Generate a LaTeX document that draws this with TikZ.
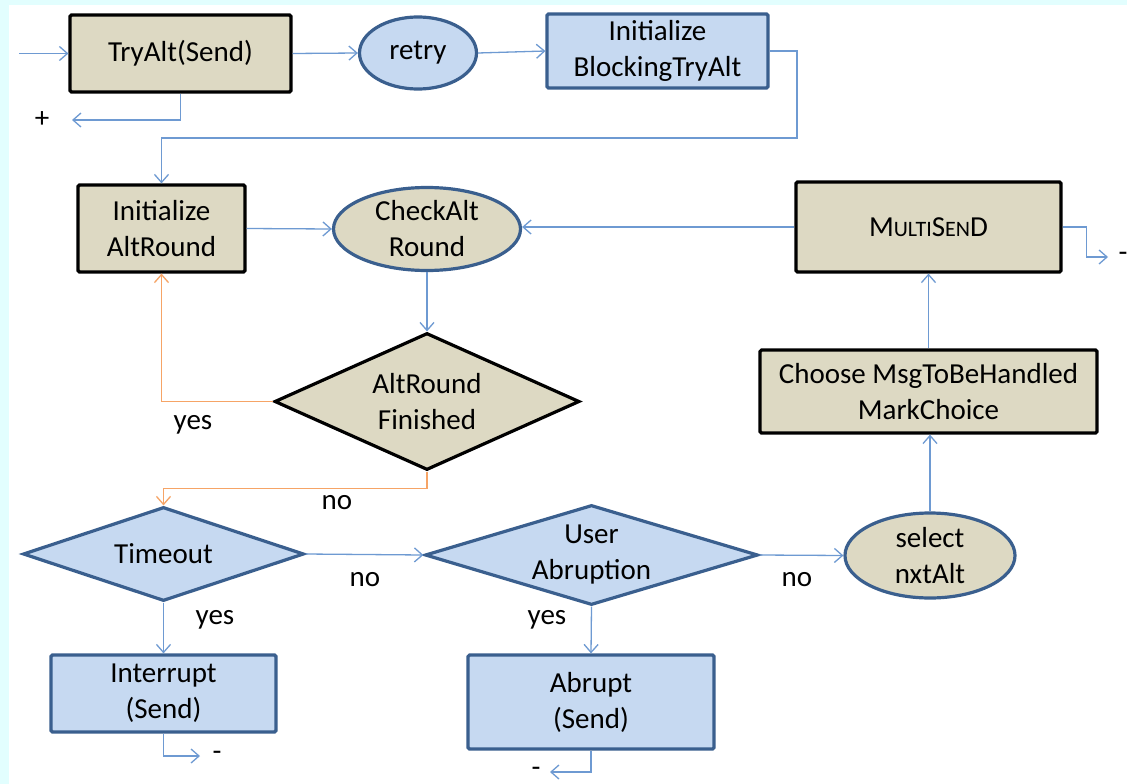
\documentclass[tikz,border=0pt]{standalone}
\usepackage{fontspec}
\setmainfont{Carlito}
\usetikzlibrary{shapes.geometric,arrows.meta}
\definecolor{tanfill}{HTML}{DDD9C3}
\definecolor{lblue}{HTML}{C6D9F1}
\definecolor{dblue}{HTML}{3A5F8E}
\definecolor{lineblue}{HTML}{6E9AD2}
\definecolor{orangel}{HTML}{F6A466}
\definecolor{bgcyan}{HTML}{E2FEFE}
\tikzset{
 txt/.style={font=\fontsize{29}{36}\selectfont, align=center, inner sep=0pt},
 box/.style={rectangle, line width=3.2pt, rounded corners=1.5pt, txt},
 tanbox/.style={box, fill=tanfill, draw=black},
 bluebox/.style={box, fill=lblue, draw=dblue},
 ell/.style={ellipse, line width=3.2pt, draw=dblue, inner sep=0pt},
 dia/.style={diamond, line width=3.2pt, inner sep=0pt},
 conn/.style={draw=lineblue, line width=1.3pt, -{Straight Barb[length=8pt,width=14pt,line width=1.3pt]}},
 oconn/.style={conn, draw=orangel},
}
\begin{document}
\begin{tikzpicture}[x=1pt,y=-1pt]
\fill[bgcyan] (0,0) rectangle (1127,784);
\fill[white] (9,5) rectangle (1127,784);
\useasboundingbox (0,0) rectangle (1127,784);

% nodes
\node[tanbox, minimum width=221pt, minimum height=77pt] (try) at (180.5,53.5) {TryAlt(Send)};
\node[ell, fill=lblue, minimum width=117pt, minimum height=72pt, label={[txt]center:retry}] (retry) at (418,53) {};
\node[bluebox, minimum width=221pt, minimum height=74pt] (ibta) at (657.5,51) {Initialize\\BlockingTryAlt};
\node[tanbox, minimum width=167pt, minimum height=87pt] (iar) at (161.5,228.5) {Initialize\\AltRound};
\node[ell, fill=tanfill, minimum width=187pt, minimum height=83pt, label={[txt]center:CheckAlt\\Round}] (chk) at (427,229) {};
\node[tanbox, minimum width=265pt, minimum height=90pt] (ms) at (928.5,227) {M{\fontsize{22}{22}\selectfont ULTI}S{\fontsize{22}{22}\selectfont EN}D};
\node[dia, fill=tanfill, draw=black, minimum width=305pt, minimum height=137pt, label={[txt]center:AltRound\\Finished}] (fin) at (427,401.5) {};
\node[tanbox, minimum width=337pt, minimum height=83pt] (cho) at (928.5,391.5) {Choose MsgToBeHandled\\MarkChoice};
\node[dia, fill=lblue, draw=dblue, minimum width=281pt, minimum height=94pt, label={[txt]center:Timeout}] (tmo) at (163.5,554) {};
\node[dia, fill=lblue, draw=dblue, minimum width=333pt, minimum height=100pt, label={[txt]center:User\\Abruption}] (ua) at (591.5,555) {};
\node[ell, fill=tanfill, minimum width=170pt, minimum height=85pt, label={[txt]center:select\\nxtAlt}] (sel) at (930,555.5) {};
\node[bluebox, minimum width=225pt, minimum height=77pt] (intr) at (163.5,693.5) {Interrupt\\(Send)};
\node[bluebox, minimum width=246pt, minimum height=94pt] (abr) at (591,702) {Abrupt\\(Send)};

% connectors
\coordinate (in) at (19,53.5);
\draw[conn] (in) -- (try.west);
\coordinate (plusend) at (72,120);
\draw[conn] (try.south) |- (plusend);
\node[txt] (plus) at (42,120) {+};
\draw[conn] (try.east) -- (retry.west);
\draw[conn] (retry.east) -- (ibta.west);
\coordinate (c1) at (797,138);
\draw[conn] (ibta.east) -| (c1) -| (iar.north);
\draw[conn] (iar.east) -- (chk.west);
\draw[conn] (ms.west) -- (ms.west -| chk.east);
\draw[conn] (chk.south) -- (fin.north);
\draw[oconn] (fin.west) -| (iar.south);
\draw[oconn] (fin.south) -- ++(0,17) -| (tmo.north);
\draw[conn] (tmo.east) -- (ua.west);
\draw[conn] (ua.east) -- (sel.west);
\draw[conn] (sel.north) -- (sel.north |- cho.south);
\draw[conn] (cho.north) -- (cho.north |- ms.south);
\coordinate (msend) at (1108,257);
\draw[conn] (ms.east) -- ++(24,0) |- (msend);
\node[txt] (msminus) at (1123,257) {-};
\draw[conn] (tmo.south) -- (intr.north);
\coordinate (intend) at (200,756);
\draw[conn] (intr.south) |- (intend);
\node[txt] (intminus) at (217,756) {-};
\draw[conn] (ua.south) -- (abr.north);
\coordinate (abrend) at (550,772);
\draw[conn] (abr.south) |- (abrend);
\node[txt] (abrminus) at (536,772) {-};

% branch labels
\node[txt] (yes1) at (193,425) {yes};
\node[txt] (no1) at (337,503) {no};
\node[txt] (yes2) at (215,620) {yes};
\node[txt] (no2) at (365,580) {no};
\node[txt] (yes3) at (547,620) {yes};
\node[txt] (no3) at (797,580) {no};
\end{tikzpicture}
\end{document}
